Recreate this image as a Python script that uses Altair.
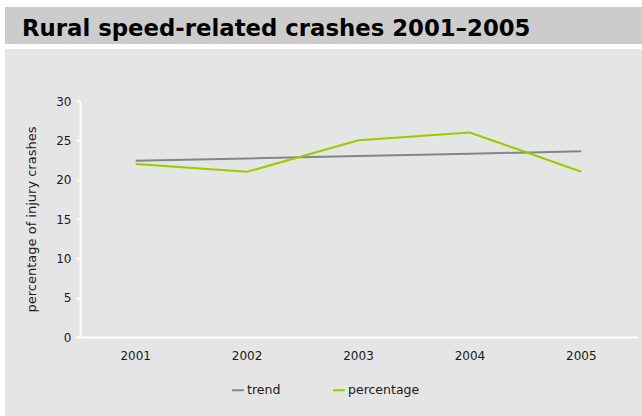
import altair as alt
import pandas as pd

# Rural speed-related crashes, share of injury crashes by year
years = ["2001", "2002", "2003", "2004", "2005"]
percentage = [22.0, 21.0, 25.0, 26.0, 21.0]
trend = [22.4, 22.7, 23.0, 23.3, 23.6]

series_names = ["trend", "percentage"]
series_colors = ["#858585", "#99cc00"]

rows = []
for name, values in (("trend", trend), ("percentage", percentage)):
    for yr, v in zip(years, values):
        rows.append({"year": yr, "value": v, "series": name})
df = pd.DataFrame(rows)

FONT = "DejaVu Sans"
PLOT_W, PLOT_H = 557, 236
PAD_L, PAD_T = 80, 101

# grey header band and light panel behind the plot
panel = alt.Chart(pd.DataFrame({"k": [0]})).mark_rect(color="#e5e5e5").encode(
    x=alt.value(5 - PAD_L), x2=alt.value(642 - PAD_L),
    y=alt.value(49 - PAD_T), y2=alt.value(416 - PAD_T),
)
header = alt.Chart(pd.DataFrame({"k": [0]})).mark_rect(color="#cccccc").encode(
    x=alt.value(5 - PAD_L), x2=alt.value(642 - PAD_L),
    y=alt.value(7 - PAD_T), y2=alt.value(44 - PAD_T),
)

lines = alt.Chart(df).mark_line(strokeWidth=2, clip=False).encode(
    x=alt.X("year:N", sort=years,
            scale=alt.Scale(type="band", paddingInner=0, paddingOuter=0),
            axis=alt.Axis(title=None, labelAngle=0, ticks=False, domainColor="white",
                          domainWidth=2, labelPadding=13, labelFontSize=12,
                          labelColor="#1a1a1a", labelFont=FONT, grid=False, zindex=1)),
    y=alt.Y("value:Q", scale=alt.Scale(domain=[0, 30], nice=False),
            axis=alt.Axis(title="percentage of injury crashes", values=[0, 5, 10, 15, 20, 25, 30],
                          domainColor="white", domainWidth=2, tickColor="white", tickSize=4,
                          tickWidth=2, labelPadding=5, labelFontSize=12, labelColor="#1a1a1a",
                          labelFont=FONT, titleFont=FONT, titleFontSize=13,
                          titleFontWeight="normal", titleColor="#1a1a1a", titlePadding=17,
                          grid=False, zindex=1)),
    color=alt.Color("series:N", sort=series_names,
                    scale=alt.Scale(domain=series_names, range=series_colors),
                    legend=alt.Legend(title=None, orient="none", direction="horizontal",
                                      legendX=231 - PAD_L, legendY=383 - PAD_T,
                                      symbolType="stroke", symbolStrokeWidth=2, symbolSize=140,
                                      labelFontSize=12.5, labelFont=FONT, labelColor="#1a1a1a",
                                      labelOffset=2, columnPadding=48, zindex=1)),
    detail="series:N",
)

chart = alt.layer(panel, header, lines).properties(
    width=PLOT_W, height=PLOT_H,
    autosize=alt.AutoSizeParams(type="none"),
    padding={"left": PAD_L, "top": PAD_T, "right": 642 - PAD_L - PLOT_W, "bottom": 416 - PAD_T - PLOT_H},
    background="white",
    title=alt.TitleParams("Rural speed-related crashes 2001–2005", anchor="start", frame="group",
                          font=FONT, fontSize=22.8, fontWeight="bold", color="#000000",
                          dx=22 - PAD_L, dy=52, baseline="alphabetic", offset=0, zindex=1),
).configure_view(stroke=None, fill=None)

chart.save("out.html", embed_options={"renderer": "svg", "actions": False})
